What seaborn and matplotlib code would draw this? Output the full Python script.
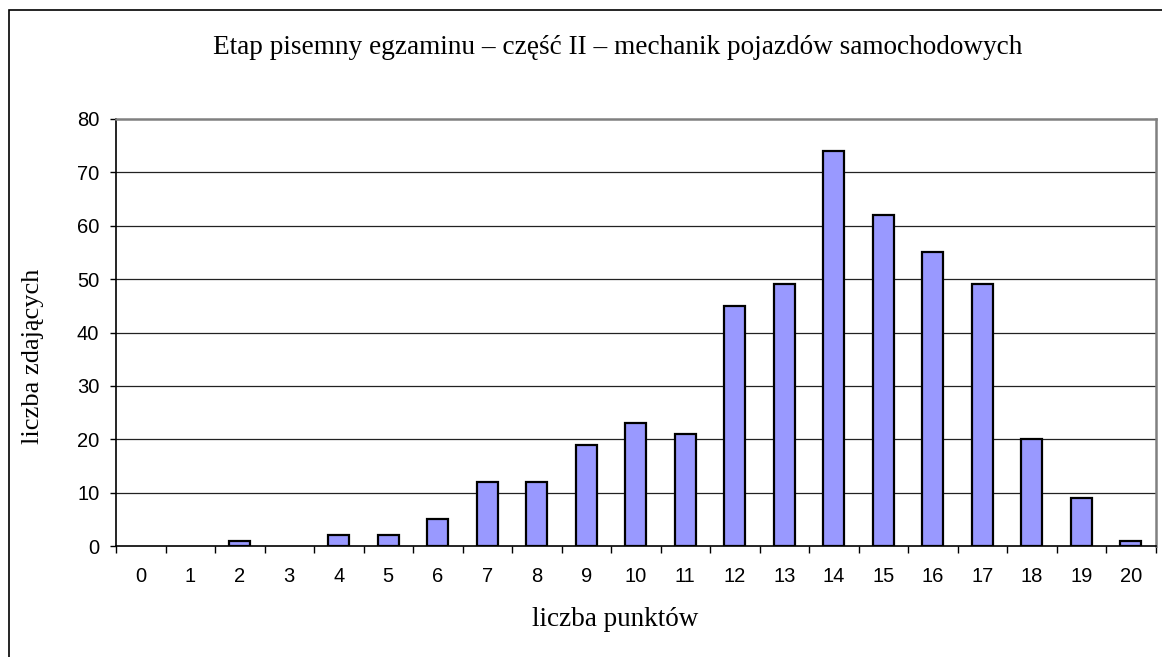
import matplotlib
matplotlib.use("Agg")
import matplotlib.pyplot as plt
import matplotlib.patches as mpatches
import seaborn as sns
import pandas as pd
import numpy as np

categories = [str(i) for i in range(21)]
values = [0, 0, 1, 0, 2, 2, 5, 12, 12, 19, 23, 21, 45, 49, 74, 62, 55, 49, 20, 9, 1]
yticks = [0, 10, 20, 30, 40, 50, 60, 70, 80]

sns.set_theme(style="white")
plt.rcParams['font.family'] = ['Liberation Sans', 'DejaVu Sans']
serif = ['Liberation Serif', 'DejaVu Serif']

W, H = 1162, 657
fig = plt.figure(figsize=(W/100, H/100), dpi=100)
L, R, T, B = 116, 1155.5, 119, 546
ax = fig.add_axes([L/W, 1-B/H, (R-L)/W, (B-T)/H])

df = pd.DataFrame({"pkt": categories, "n": values})
sns.barplot(data=df, x="pkt", y="n", color="#9999FF", edgecolor="black",
            linewidth=1.6, width=0.43, saturation=1, ax=ax, zorder=3)
for p in ax.patches:
    if p.get_height() == 0:
        p.set_visible(False)

ax.set_xlim(-0.5, 20.5)
ax.set_ylim(0, 80)
ax.set_yticks(yticks)
ax.set_yticklabels([str(t) for t in yticks], fontsize=14.5)
ax.set_xticks(range(21))
ax.set_xticklabels(categories, fontsize=14.5)
ax.set_xticks(np.arange(-0.5, 21, 1), minor=True)
ax.tick_params(axis='x', which='major', length=0, pad=15, colors='black')
ax.tick_params(axis='x', which='minor', length=5, width=1, color='black', direction='out', bottom=True)
ax.tick_params(axis='y', which='major', length=4.5, width=1, color='black', direction='out', left=True, pad=7.5, colors='black')

for t in yticks[1:-1]:
    ax.axhline(t, color='#222222', linewidth=0.9, zorder=1)

for s in ['top', 'right']:
    ax.spines[s].set_color('#808080')
    ax.spines[s].set_linewidth(1.8)
ax.spines['left'].set_color('black')
ax.spines['left'].set_linewidth(1.2)
ax.spines['bottom'].set_color('black')
ax.spines['bottom'].set_linewidth(1.2)
ax.spines['bottom'].set_zorder(4)

ax.set_xlabel("liczba punktów", fontsize=19.5, family=serif, color='black')
ax.set_ylabel("liczba zdających", fontsize=19, family=serif, color='black')
ax.xaxis.set_label_coords((615 - L)/(R-L), -(620-B)/(B-T))
ax.yaxis.set_label_coords(-(L-33)/(R-L), (B-356)/(B-T))
ax.xaxis.label.set_va('center')
ax.yaxis.label.set_va('center')

fig.text(618/W, 1-47/H, "Etap pisemny egzaminu – część II – mechanik pojazdów samochodowych",
         ha='center', va='center', fontsize=19.6, family=serif, color='black')

rect = mpatches.Rectangle((9/W, -0.05), 1.2, 1.05 - 10.5/H, transform=fig.transFigure,
                          fill=False, edgecolor='black', linewidth=1.2)
fig.patches.append(rect)

fig.savefig("out.png", dpi=100, facecolor='white')
